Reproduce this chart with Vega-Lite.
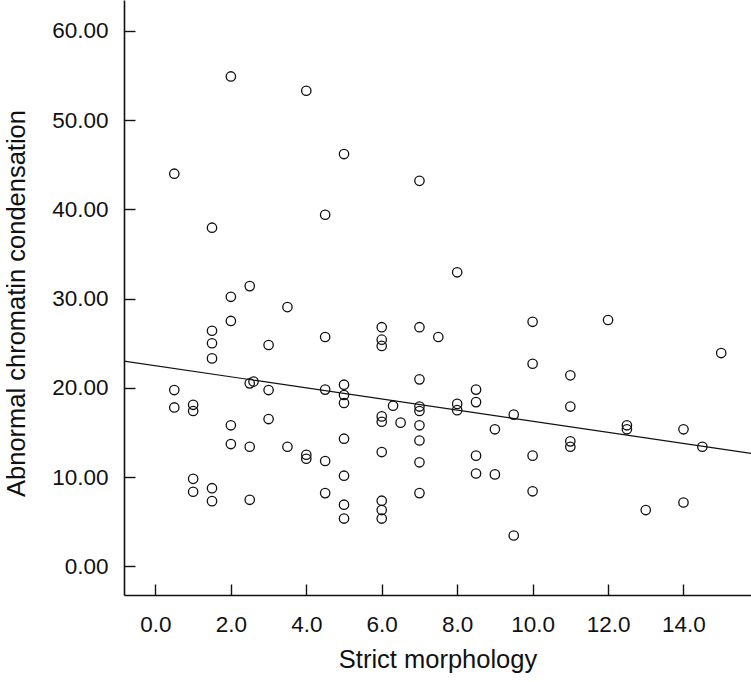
{
  "$schema": "https://vega.github.io/schema/vega-lite/v6.json",
  "width": 627,
  "height": 595,
  "autosize": {"type": "none"},
  "padding": {"left": 124, "top": 0, "right": 0, "bottom": 87},
  "background": "white",
  "config": {
    "view": {"stroke": null},
    "font": "Liberation Sans",
    "axis": {
      "grid": false,
      "domainColor": "#111111",
      "domainWidth": 1.6,
      "tickColor": "#111111",
      "tickWidth": 1.4,
      "tickSize": -11,
      "labelFont": "Liberation Sans",
      "labelFontSize": 22.5,
      "labelColor": "#111111",
      "titleFont": "Liberation Sans",
      "titleFontSize": 25.5,
      "titleFontWeight": "normal",
      "titleColor": "#111111"
    }
  },
  "datasets": {
    "points": [
      {"morph": 2.0, "acc": 54.9}, {"morph": 4.0, "acc": 53.3}, {"morph": 5.0, "acc": 46.2},
      {"morph": 0.5, "acc": 44.0}, {"morph": 7.0, "acc": 43.2}, {"morph": 4.5, "acc": 39.4},
      {"morph": 1.5, "acc": 37.95}, {"morph": 2.5, "acc": 31.4}, {"morph": 2.0, "acc": 30.2},
      {"morph": 8.0, "acc": 32.95}, {"morph": 3.5, "acc": 29.05}, {"morph": 2.0, "acc": 27.5},
      {"morph": 1.5, "acc": 26.4}, {"morph": 4.5, "acc": 25.7}, {"morph": 6.0, "acc": 26.8},
      {"morph": 7.0, "acc": 26.8}, {"morph": 7.5, "acc": 25.7}, {"morph": 1.5, "acc": 25.0},
      {"morph": 3.0, "acc": 24.8}, {"morph": 6.0, "acc": 25.4}, {"morph": 6.0, "acc": 24.7},
      {"morph": 1.5, "acc": 23.3}, {"morph": 7.0, "acc": 20.95}, {"morph": 2.5, "acc": 20.5},
      {"morph": 2.6, "acc": 20.7}, {"morph": 0.5, "acc": 19.75}, {"morph": 3.0, "acc": 19.75},
      {"morph": 4.5, "acc": 19.8}, {"morph": 5.0, "acc": 20.35}, {"morph": 5.0, "acc": 19.2},
      {"morph": 5.0, "acc": 18.3}, {"morph": 0.5, "acc": 17.8}, {"morph": 1.0, "acc": 18.1},
      {"morph": 1.0, "acc": 17.4}, {"morph": 6.3, "acc": 18.0}, {"morph": 7.0, "acc": 17.9},
      {"morph": 7.0, "acc": 17.4}, {"morph": 6.0, "acc": 16.8}, {"morph": 6.0, "acc": 16.2},
      {"morph": 6.5, "acc": 16.1}, {"morph": 2.0, "acc": 15.8}, {"morph": 3.0, "acc": 16.5},
      {"morph": 7.0, "acc": 15.8}, {"morph": 5.0, "acc": 14.3}, {"morph": 7.0, "acc": 14.1},
      {"morph": 2.0, "acc": 13.7}, {"morph": 2.5, "acc": 13.4}, {"morph": 3.5, "acc": 13.4},
      {"morph": 4.0, "acc": 12.5}, {"morph": 4.0, "acc": 12.05}, {"morph": 4.5, "acc": 11.8},
      {"morph": 6.0, "acc": 12.8}, {"morph": 7.0, "acc": 11.65}, {"morph": 5.0, "acc": 10.15},
      {"morph": 1.0, "acc": 9.8}, {"morph": 1.0, "acc": 8.35}, {"morph": 1.5, "acc": 8.75},
      {"morph": 1.5, "acc": 7.3}, {"morph": 2.5, "acc": 7.45}, {"morph": 4.5, "acc": 8.2},
      {"morph": 7.0, "acc": 8.2}, {"morph": 5.0, "acc": 6.9}, {"morph": 5.0, "acc": 5.35},
      {"morph": 6.0, "acc": 7.35}, {"morph": 6.0, "acc": 6.3}, {"morph": 6.0, "acc": 5.35},
      {"morph": 10.0, "acc": 27.4}, {"morph": 12.0, "acc": 27.6}, {"morph": 15.0, "acc": 23.9},
      {"morph": 10.0, "acc": 22.7}, {"morph": 11.0, "acc": 21.4}, {"morph": 8.5, "acc": 19.8},
      {"morph": 8.0, "acc": 18.2}, {"morph": 8.0, "acc": 17.5}, {"morph": 8.5, "acc": 18.4},
      {"morph": 9.5, "acc": 17.0}, {"morph": 11.0, "acc": 17.9}, {"morph": 9.0, "acc": 15.35},
      {"morph": 12.5, "acc": 15.8}, {"morph": 12.5, "acc": 15.35}, {"morph": 14.0, "acc": 15.35},
      {"morph": 14.5, "acc": 13.4}, {"morph": 11.0, "acc": 14.0}, {"morph": 11.0, "acc": 13.4},
      {"morph": 8.5, "acc": 12.4}, {"morph": 10.0, "acc": 12.4}, {"morph": 8.5, "acc": 10.4},
      {"morph": 9.0, "acc": 10.3}, {"morph": 10.0, "acc": 8.4}, {"morph": 13.0, "acc": 6.3},
      {"morph": 14.0, "acc": 7.15}, {"morph": 9.5, "acc": 3.45}
    ],
    "fit": [
      {"morph": -0.833, "acc": 23.0},
      {"morph": 15.79, "acc": 12.66}
    ]
  },
  "encoding": {
    "x": {
      "field": "morph",
      "type": "quantitative",
      "scale": {"domain": [-0.833, 15.79], "nice": false, "zero": false},
      "axis": {
        "title": "Strict morphology",
        "values": [0, 2, 4, 6, 8, 10, 12, 14],
        "format": ".1f",
        "labelPadding": 29,
        "titlePadding": 12
      }
    },
    "y": {
      "field": "acc",
      "type": "quantitative",
      "scale": {"domain": [-3.22, 63.47], "nice": false, "zero": false},
      "axis": {
        "title": "Abnormal chromatin condensation",
        "values": [0, 10, 20, 30, 40, 50, 60],
        "format": ".2f",
        "labelPadding": 27,
        "titlePadding": 22,
        "titleY": 303
      }
    }
  },
  "layer": [
    {
      "data": {"name": "fit"},
      "mark": {"type": "line", "color": "#111111", "strokeWidth": 1.2, "clip": true}
    },
    {
      "data": {"name": "points"},
      "mark": {"type": "point", "shape": "circle", "filled": false, "size": 88, "color": "#111111", "strokeWidth": 1.3, "opacity": 1}
    }
  ]
}
